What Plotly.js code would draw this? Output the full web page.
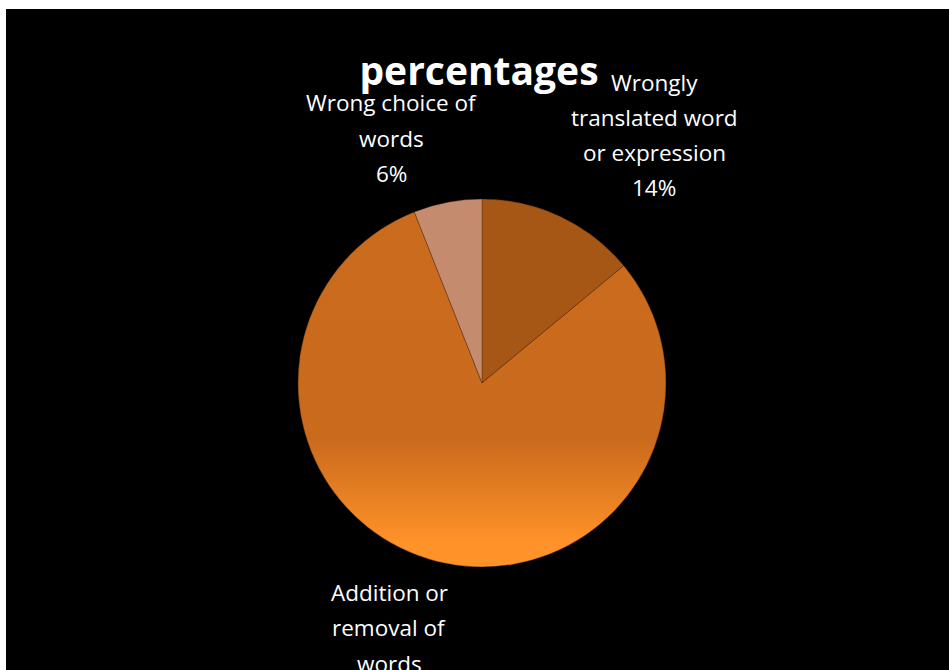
<!DOCTYPE html>
<html>
<head>
<meta charset="utf-8">
<script src="https://cdn.plot.ly/plotly-3.0.1.min.js"></script>
<style>
html,body{margin:0;padding:0;background:#ffffff;width:949px;height:670px;overflow:hidden;}
#chart{position:absolute;left:6px;top:9px;width:943px;height:661px;}
</style>
</head>
<body>
<div id="chart"></div>
<script>
// Data
const categories = ['Wrongly<br>translated word<br>or expression', 'Addition or<br>removal of<br>words', 'Wrong choice of<br>words'];
const values = [14, 80, 6];
const sliceColors = ['#A65716', '#CB6B1E', '#C48B6F'];
const chartTitle = 'percentages';

const W = 943, H = 661, OX = 6, OY = 9;
const total = values.reduce((a, b) => a + b, 0);
const pct = values.map(v => Math.round(v / total * 100) + '%');

// label block centres (page pixels)
const labelCentres = [[654, 135], [389, 645.5], [391, 138]];
const lineGap = 35.3;

const annotations = [];
categories.forEach((c, k) => {
  const lines = c.split('<br>').concat([pct[k]]);
  const n = lines.length;
  lines.forEach((t, i) => {
    const px = labelCentres[k][0];
    const py = labelCentres[k][1] + (i - (n - 1) / 2) * lineGap;
    annotations.push({
      text: t, showarrow: false, xref: 'paper', yref: 'paper',
      x: (px - OX) / W, y: 1 - (py - OY) / H, xanchor: 'center', yanchor: 'middle',
      font: {family: 'Open Sans, sans-serif', size: 22.5, color: '#ffffff'}
    });
  });
});

const cx = 482, cy = 383, r = 184;
const trace = {
  type: 'pie',
  labels: categories,
  values: values,
  sort: false,
  direction: 'clockwise',
  rotation: 0,
  textinfo: 'none',
  hoverinfo: 'label+percent',
  marker: {colors: sliceColors, line: {color: 'rgba(70,35,10,0.5)', width: 0.7}},
  domain: {x: [(cx - r - OX) / W, (cx + r - OX) / W], y: [1 - (cy + r - OY) / H, 1 - (cy - r - OY) / H]},
  showlegend: false
};

const layout = {
  width: W, height: H,
  paper_bgcolor: '#000000', plot_bgcolor: '#000000',
  margin: {l: 0, r: 0, t: 0, b: 0},
  title: {text: '<b>' + chartTitle + '</b>', x: (479 - OX) / W, xanchor: 'center', xref: 'paper',
          y: 1 - (71 - OY) / H, yanchor: 'middle', yref: 'container',
          font: {family: 'Open Sans, sans-serif', size: 39, color: '#ffffff'}},
  annotations: annotations,
  showlegend: false
};

Plotly.newPlot('chart', [trace], layout, {displayModeBar: false, staticPlot: true}).then(gd => {
  const svg = gd.querySelector('.main-svg');
  const ns = 'http://www.w3.org/2000/svg';
  let defs = svg.querySelector('defs');
  if (!defs) { defs = document.createElementNS(ns, 'defs'); svg.insertBefore(defs, svg.firstChild); }
  const g = document.createElementNS(ns, 'linearGradient');
  g.setAttribute('id', 'bigSliceGrad');
  g.setAttribute('x1', '0'); g.setAttribute('y1', '0'); g.setAttribute('x2', '0'); g.setAttribute('y2', '1');
  [[0, '#CB6B1E'], [0.64, '#CA6A1D'], [0.93, '#FF9228'], [1, '#FF9228']].forEach(s => {
    const st = document.createElementNS(ns, 'stop');
    st.setAttribute('offset', s[0]); st.setAttribute('stop-color', s[1]);
    g.appendChild(st);
  });
  defs.appendChild(g);
  const paths = gd.querySelectorAll('.slice path.surface');
  if (paths[1]) paths[1].style.fill = 'url(#bigSliceGrad)';
});
</script>
</body>
</html>
